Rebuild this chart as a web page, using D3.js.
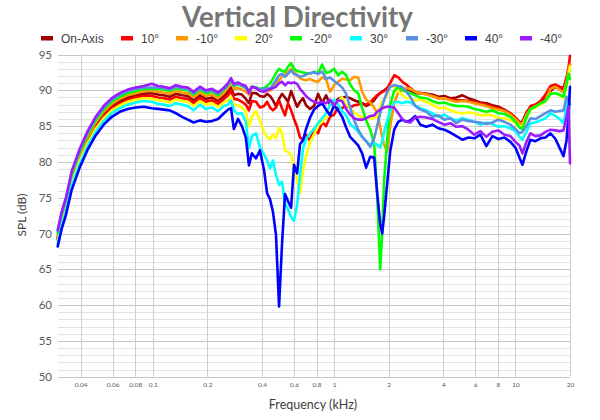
<!DOCTYPE html>
<html><head><meta charset="utf-8">
<script src="https://cdn.jsdelivr.net/npm/d3@7"></script>
<style>body{margin:0;background:#fff;} svg{display:block;}</style>
</head><body><svg id="c" width="600" height="420"></svg>
<script>
const freqs=[0.0299,0.0314,0.0331,0.0357,0.0395,0.0437,0.0484,0.0536,0.0594,0.0657,
0.0727,0.0805,0.0892,0.0987,0.107,0.115,0.124,0.134,0.145,0.156,
0.168,0.182,0.196,0.212,0.229,0.247,0.260,0.270,0.280,0.295,
0.310,0.326,0.339,0.352,0.371,0.390,0.411,0.427,0.443,0.460,
0.478,0.497,0.516,0.536,0.557,0.579,0.601,0.625,0.649,0.674,
0.700,0.737,0.775,0.816,0.859,0.903,0.950,1.000,1.052,1.107,
1.165,1.226,1.290,1.357,1.428,1.502,1.581,1.663,1.728,1.795,
1.841,1.889,1.963,2.039,2.145,2.258,2.375,2.499,2.630,2.803,
2.986,3.224,3.479,3.755,4.054,4.376,4.721,5.096,5.500,5.936,
6.407,6.915,7.464,8.055,8.694,9.384,10.0,10.52,10.93,11.50,
12.10,12.90,13.75,14.65,15.61,16.63,17.50,18.42,19.13,19.63,
20.0];

const onAxis=[69.4,71.9,73.8,77.6,80.7,83.2,85.2,86.7,87.8,88.5,
89.0,89.3,89.5,89.6,89.4,89.3,89.1,89.5,89.3,89.2,
88.6,89.3,88.8,89.0,88.5,89.2,89.8,90.4,89.3,89.5,
89.4,88.8,88.2,89.6,89.6,89.2,89.1,89.5,89.2,88.6,
87.8,88.8,89.5,89.0,88.4,89.9,88.8,87.7,88.4,88.9,
87.9,87.4,87.8,89.5,88.2,89.3,88.0,88.2,88.8,89.0,
89.1,88.9,88.6,88.4,88.2,87.8,88.1,88.6,89.2,89.6,
89.8,90.0,90.3,90.5,90.5,90.4,90.1,90.0,90.0,89.6,
89.6,89.5,89.4,89.1,89.2,88.9,89.0,89.3,88.9,88.6,
88.3,88.2,87.9,87.7,87.3,86.7,86.1,85.5,85.6,86.9,
87.5,87.8,88.3,89.0,89.9,90.5,90.2,89.9,91.3,92.8,
93.6];

const deg10=[69.1,71.6,73.5,77.3,80.4,82.9,84.9,86.4,87.5,88.2,
88.7,89.0,89.2,89.2,89.0,88.9,88.7,89.1,88.9,88.8,
88.2,88.9,88.4,88.6,88.1,88.8,89.3,90.0,88.8,88.7,
88.4,88.0,87.2,88.5,88.4,87.6,87.8,88.4,87.6,87.2,
87.6,88.6,87.5,86.5,88.2,87.2,86.0,84.9,83.4,83.1,
83.8,83.0,84.6,84.0,85.6,85.0,86.3,86.6,87.6,87.5,
87.8,87.6,87.9,88.0,88.2,88.0,88.3,88.9,89.3,89.6,
89.8,89.9,90.3,91.0,92.1,91.8,91.2,90.8,90.3,89.8,
89.6,89.5,89.2,88.9,88.9,88.7,88.6,88.6,88.5,88.4,
88.2,88.0,87.7,87.5,87.2,86.8,86.2,85.6,85.2,86.8,
87.8,88.0,88.5,89.4,90.6,90.8,90.5,90.3,91.8,93.2,
94.8];

const degM10=[69.7,72.2,74.1,77.9,81.0,83.5,85.5,87.0,88.1,88.8,
89.3,89.6,89.9,89.9,89.8,89.7,89.5,89.9,89.7,89.6,
89.0,89.7,89.2,89.4,88.9,89.7,90.4,91.2,90.2,90.3,
90.1,89.8,89.4,90.5,90.3,90.0,90.0,90.1,89.9,90.6,
91.0,91.4,91.9,92.2,92.6,93.0,92.6,92.1,91.7,91.5,
91.4,91.6,91.3,91.2,91.8,91.5,89.8,90.7,91.2,91.6,
91.5,91.4,91.9,91.8,89.8,88.7,88.3,87.6,86.8,84.9,
83.5,82.4,81.4,85.0,88.3,89.7,90.0,90.3,90.2,89.8,
89.6,89.4,89.2,88.9,88.9,88.6,88.4,88.5,88.4,88.2,
88.0,87.8,87.5,87.3,87.1,86.6,86.0,85.4,85.3,86.6,
87.3,87.8,88.0,88.6,90.2,90.5,90.1,89.7,91.2,92.8,
93.6];

const deg20=[68.8,71.3,73.2,77.0,80.1,82.6,84.6,86.1,87.2,87.9,
88.4,88.7,88.9,88.8,88.6,88.5,88.3,88.7,88.5,88.4,
87.8,88.5,88.0,88.2,87.7,88.3,88.6,89.1,88.0,87.9,
87.6,87.0,84.9,86.3,87.1,85.8,84.2,83.5,83.2,83.8,
83.3,84.8,84.0,81.6,81.4,81.0,79.0,77.5,75.6,78.8,
80.7,82.8,83.8,85.1,85.6,86.2,86.6,88.1,88.5,89.0,
88.0,87.5,86.9,86.5,86.2,86.2,86.1,86.1,86.6,87.8,
88.5,88.6,89.5,90.5,90.5,89.8,89.4,88.9,88.9,88.6,
88.7,88.4,88.0,87.5,87.6,87.2,86.9,86.8,86.9,86.8,
86.5,86.6,86.5,86.1,86.1,85.8,85.4,84.9,85.0,86.1,
87.4,87.6,88.0,88.5,89.5,89.6,89.3,88.9,90.4,92.0,
93.3];

const degM20=[70.0,72.5,74.4,78.2,81.3,83.8,85.8,87.3,88.4,89.1,
89.6,89.9,90.2,90.2,90.2,90.1,89.9,90.3,90.1,90.0,
89.4,90.1,89.6,89.8,89.3,90.1,90.7,91.4,90.6,90.8,
90.6,90.3,90.0,90.5,90.4,90.2,90.3,90.6,91.0,91.6,
92.4,93.0,92.7,92.6,93.3,93.8,93.0,92.7,92.6,92.5,
92.4,92.3,92.6,92.4,93.6,92.4,92.6,93.0,92.1,92.6,
92.1,90.8,90.0,89.6,87.5,85.8,84.5,82.6,75.5,65.0,
70.0,77.5,83.0,88.0,89.9,90.5,90.0,89.8,89.6,89.3,
89.0,88.9,88.5,88.2,88.3,88.0,87.8,87.8,87.7,87.4,
87.2,87.0,87.2,86.8,86.7,86.3,85.6,84.8,84.6,86.2,
87.4,87.7,88.2,88.5,89.5,89.6,89.4,89.1,90.8,92.3,
91.6];

const deg30=[68.6,71.0,72.9,76.6,79.7,82.2,84.2,85.7,86.8,87.5,
88.0,88.3,88.5,88.4,88.1,88.0,87.8,88.2,88.0,87.8,
87.2,88.0,87.4,87.6,87.1,87.8,88.0,88.6,87.2,86.7,
86.8,85.6,81.9,83.6,84.0,82.0,81.0,80.2,79.1,80.2,
78.2,76.8,77.2,74.2,73.4,72.3,71.8,74.0,78.2,81.9,
83.2,84.0,84.6,85.4,86.1,86.8,88.0,88.7,88.0,87.1,
86.5,85.3,84.8,84.2,83.5,82.9,82.3,82.6,82.4,82.0,
82.8,84.2,85.8,87.1,88.3,88.4,88.2,88.4,88.3,87.9,
87.5,87.2,86.8,86.3,86.6,86.1,85.8,86.1,85.9,85.6,
85.2,85.5,85.3,84.9,85.0,84.7,84.3,83.5,83.1,84.2,
85.4,85.5,85.8,86.1,86.8,86.4,86.0,85.4,87.7,89.0,
89.6];

const degM30=[70.3,72.8,74.7,78.5,81.6,84.1,86.1,87.6,88.7,89.4,
89.9,90.2,90.4,90.4,90.4,90.3,90.1,90.5,90.3,90.2,
89.6,90.3,89.8,90.0,89.5,90.2,90.8,91.5,90.7,90.9,
90.7,90.4,89.8,90.5,90.4,90.1,90.2,90.3,90.2,90.8,
91.4,92.1,92.3,91.9,92.3,92.8,92.3,92.1,91.9,92.0,
92.2,92.4,92.5,92.3,92.6,91.6,91.8,91.3,90.9,90.4,
89.5,87.6,85.8,84.5,83.5,82.9,82.1,83.3,85.0,86.8,
87.8,88.7,89.8,90.5,90.7,90.6,90.5,89.8,89.1,87.8,
87.3,87.0,86.3,86.5,85.9,86.1,85.4,85.9,85.7,85.6,
85.5,85.3,85.5,85.9,85.6,85.2,84.6,84.0,84.2,85.0,
86.1,86.0,86.4,86.8,87.2,87.0,87.1,87.2,89.1,88.5,
88.0];

const deg40=[68.2,70.6,72.5,76.1,79.2,81.7,83.7,85.2,86.3,87.0,
87.4,87.6,87.7,87.5,87.4,87.3,87.2,86.8,86.3,85.9,
85.5,85.8,85.6,85.7,86.0,86.8,87.3,87.5,84.6,86.0,
85.0,83.4,79.5,81.2,80.5,81.6,78.8,75.6,74.8,73.0,
69.8,59.8,68.5,75.5,74.5,73.6,79.6,78.4,82.5,83.0,
84.6,86.2,87.3,87.8,88.2,87.3,86.5,87.9,87.2,86.3,
84.8,83.5,82.9,82.3,81.2,79.2,80.7,80.6,75.6,71.4,
70.0,72.5,77.0,81.5,84.5,85.6,85.9,85.6,85.8,86.4,
85.2,84.9,85.2,84.7,84.5,84.1,83.6,83.1,83.4,83.3,
83.8,82.2,83.6,83.2,83.4,82.8,82.0,80.6,79.6,81.5,
83.1,82.9,83.3,83.4,84.0,83.2,82.0,80.8,83.0,86.5,
90.5];

const degM40=[70.5,73.0,74.9,78.7,81.8,84.3,86.3,87.8,88.9,89.6,
90.1,90.4,90.6,90.9,90.6,90.5,90.3,90.7,90.5,90.4,
89.8,90.5,90.0,90.2,89.7,90.4,91.0,91.7,90.9,91.1,
90.8,90.6,89.6,90.5,90.3,89.9,89.8,90.0,90.2,90.3,
90.5,91.0,91.2,90.7,91.1,91.0,91.1,90.9,90.2,89.7,
89.2,88.7,88.4,88.2,88.4,88.2,88.7,87.9,88.6,88.5,
87.4,86.6,86.1,85.9,85.9,86.1,86.4,86.5,87.0,87.3,
87.5,87.6,87.7,87.7,87.6,86.8,86.0,85.6,85.5,86.2,
86.3,86.2,86.0,85.6,85.2,85.4,84.9,85.0,84.5,83.8,
84.3,83.5,84.2,84.4,83.8,83.6,82.8,82.3,81.2,82.8,
84.0,83.6,83.7,84.2,84.5,84.4,84.3,84.4,86.3,87.8,
79.8];

const seriesNames=["On-Axis","10°","-10°","20°","-20°","30°","-30°","40°","-40°"];
const seriesValues=[onAxis,deg10,degM10,deg20,degM20,deg30,degM30,deg40,degM40];
const seriesColors=["#9c0000","#ff0000","#ff9900","#ffff00","#00ff00","#00ffff","#5b8fe6","#0000ff","#9b1cff"];
const xTicks=[0.04,0.06,0.08,0.1,0.2,0.4,0.6,0.8,1,2,4,6,8,10,20];
const xTickLabels=["0.04","0.06","0.08","0.1","0.2","0.4","0.6","0.8","1","2","4","6","8","10","20"];
const yTicks=[50,55,60,65,70,75,80,85,90,95];

const svg=d3.select("#c");
const L=58,R=570,T=54.5,B=376.7;
const x=d3.scaleLog().domain([0.03,20]).range([L,R]);
const y=d3.scaleLinear().domain([50,95]).range([B,T]);

// horizontal grid (1 dB minor, 5 dB major)
const gy=svg.append("g");
gy.selectAll("line").data(d3.range(50,96,1)).join("line")
  .attr("x1",L).attr("x2",R).attr("y1",d=>Math.round(y(d))+0.5).attr("y2",d=>Math.round(y(d))+0.5)
  .attr("stroke",d=>d%5===0?"#c6c6c6":"#e2e2e2").attr("stroke-width",1);
// vertical grid
svg.append("g").selectAll("line").data(xTicks).join("line")
  .attr("x1",d=>Math.round(x(d))+0.5).attr("x2",d=>Math.round(x(d))+0.5)
  .attr("y1",T).attr("y2",B)
  .attr("stroke","#cfcfcf").attr("stroke-width",1);

// y axis
const ya=svg.append("g").attr("transform",`translate(${L},0)`)
  .call(d3.axisLeft(y).tickValues(yTicks).tickSize(0).tickPadding(6));
ya.select(".domain").remove();
ya.selectAll("text").attr("font-family","Lato, 'Open Sans', sans-serif").attr("font-size",11.5).attr("fill","#595959");

// x axis
const xa=svg.append("g").attr("transform",`translate(0,${B})`)
  .call(d3.axisBottom(x).tickValues(xTicks).tickSize(0).tickPadding(6)
  .tickFormat((d,i)=>xTickLabels[i]));
xa.select(".domain").remove();
xa.selectAll("text").attr("font-family","Lato, 'Open Sans', sans-serif").attr("font-size",6.5).attr("fill","#595959");

// axis titles
svg.append("text").attr("x",313).attr("y",409).attr("text-anchor","middle")
  .attr("font-family","Lato, 'Open Sans', sans-serif").attr("font-size",12.5).attr("fill","#404040")
  .text("Frequency (kHz)");
svg.append("text").attr("transform","translate(26,215) rotate(-90)").attr("text-anchor","middle")
  .attr("font-family","Lato, 'Open Sans', sans-serif").attr("font-size",12).attr("fill","#404040")
  .text("SPL (dB)");

// lines
const line=d3.line().x(d=>x(d[0])).y(d=>y(d[1]));
const gl=svg.append("g");
seriesValues.forEach((vals,i)=>{
  gl.append("path").datum(freqs.map((f,j)=>[f,vals[j]]))
    .attr("d",line).attr("fill","none").attr("stroke",seriesColors[i])
    .attr("stroke-width",2.6).attr("stroke-linejoin","round").attr("stroke-linecap","round");
});

// title
const title=svg.append("text").attr("x",297.5).attr("y",27).attr("text-anchor","middle")
  .attr("font-family","Lato, 'Open Sans', sans-serif").attr("font-weight","bold").attr("font-size",26)
  .attr("fill","#767676").text("Vertical Directivity");
const tl=title.node().getComputedTextLength();
title.attr("font-size",26*231/tl);

// legend
const legX=[41,121,176,235,290,350,406,465,520];
const lg=svg.append("g");
seriesNames.forEach((n,i)=>{
  lg.append("rect").attr("x",legX[i]).attr("y",36).attr("width",12).attr("height",4.5).attr("fill",seriesColors[i]);
  lg.append("text").attr("x",legX[i]+20).attr("y",42.5)
    .attr("font-family","'Liberation Sans', Arial, sans-serif").attr("font-size",12).attr("fill","#404040").text(n);
});
</script></body></html>
